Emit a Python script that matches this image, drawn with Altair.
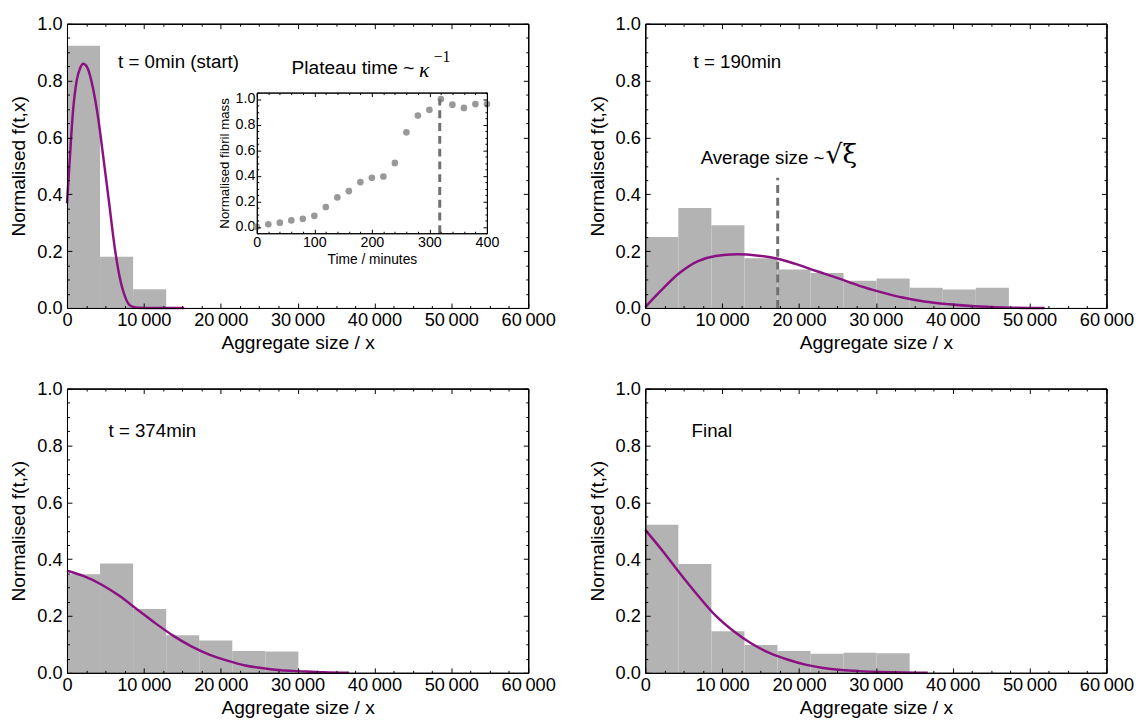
import altair as alt
import pandas as pd

W, H = 469, 289
XMAX = 60000
BIN = 4300
FONT = "Liberation Sans"
GRAY_BAR = "#b3b3b3"
PURPLE = "#8b1183"
DASH_GRAY = "#707070"
TICK_FS = 18.5
TITLE_FS = 19.5
NOTE_FS = 19

# ---- histogram heights (bin width BIN) ----
h_start = [0.923, 0.180, 0.066]
h_190 = [0.250, 0.352, 0.291, 0.175, 0.135, 0.123, 0.096, 0.104, 0.071, 0.065, 0.071]
h_374 = [0.347, 0.385, 0.225, 0.132, 0.114, 0.077, 0.075]
h_final = [0.521, 0.383, 0.146, 0.098, 0.077, 0.067, 0.071, 0.069]

# ---- fitted curves ----
c0_x = [0, 330, 790, 1260, 1730, 2100, 2660, 3360, 4060, 4760, 5460, 6150, 6850, 7550, 8250, 9180, 11000, 13000, 15250]
c0_y = [0.368, 0.51, 0.695, 0.80, 0.845, 0.859, 0.845, 0.776, 0.667, 0.523, 0.374, 0.224, 0.109, 0.040, 0.008, 0.001, 0.0, 0.0, 0.0]
c190_x = [0, 2100, 4450, 6790, 9130, 11940, 14750, 17230, 19430, 22240, 25040, 27850, 30660, 33470, 36280, 39550, 42830, 46580, 51960]
c190_y = [0.003, 0.063, 0.123, 0.164, 0.183, 0.189, 0.184, 0.173, 0.156, 0.130, 0.105, 0.078, 0.056, 0.037, 0.023, 0.013, 0.006, 0.002, 0.0]
c374_x = [0, 2190, 4520, 6850, 9180, 11520, 13850, 16180, 18510, 20840, 23170, 25500, 27830, 30160, 33430, 36690]
c374_y = [0.359, 0.340, 0.310, 0.270, 0.222, 0.174, 0.130, 0.093, 0.064, 0.043, 0.026, 0.016, 0.009, 0.006, 0.002, 0.0]
cfin_x = [0, 2110, 4450, 6790, 9130, 11470, 13810, 16150, 18490, 20830, 23170, 25510, 27850, 30660, 33470, 36750]
cfin_y = [0.503, 0.434, 0.352, 0.274, 0.202, 0.147, 0.103, 0.070, 0.047, 0.029, 0.017, 0.010, 0.006, 0.003, 0.001, 0.0]

# ---- inset: fibril mass vs time ----
inset_t = [0, 20, 40, 60, 80, 100, 120, 140, 160, 180, 200, 220, 240, 260, 280, 300, 320, 340, 360, 380, 400]
inset_m = [0.0, 0.02, 0.033, 0.05, 0.063, 0.086, 0.155, 0.23, 0.28, 0.35, 0.384, 0.394, 0.50, 0.74, 0.87, 0.916, 1.0, 0.956, 0.93, 0.96, 0.96]
plateau_t = 318
avg_size = 17230
avg_top = 0.458

# ---- tick values ----
X_MAJ = [0, 10000, 20000, 30000, 40000, 50000, 60000]
X_MIN = [v for v in range(0, 60001, 2500) if v % 10000 != 0]
Y_MAJ = [0.0, 0.2, 0.4, 0.6, 0.8, 1.0]
Y_MIN = [round(i * 0.05, 2) for i in range(21) if i % 4 != 0]
IX_MAJ = [0, 100, 200, 300, 400]
IX_MIN = [v for v in range(0, 401, 20) if v % 100 != 0]
IY_MAJ = [0.0, 0.2, 0.4, 0.6, 0.8, 1.0]
IY_MIN = [round(-0.05 + i * 0.05, 2) for i in range(23) if (i - 1) % 4 != 0]

XDOM = [0, XMAX]
YDOM = [0, 1]
IXDOM = [0, 400]
IYDOM = [-0.05, 1.05]
# inset placement inside top-left plot area (pixels)
IL, IR, IT, IB = 193, 427, 70, 213

X_LABEL_EXPR = "datum.value >= 10000 ? floor(datum.value / 1000) + '\u2009000' : '' + datum.value"


def sx(dom, rng=None):
    if rng is None:
        return alt.Scale(domain=dom, nice=False, zero=False)
    return alt.Scale(domain=dom, nice=False, zero=False, range=rng)


def tick_axis(orient, offset, values, size):
    return alt.Axis(orient=orient, offset=offset, values=values, labels=False, ticks=True,
                    tickSize=size, tickColor="black", tickWidth=1, domain=True,
                    domainColor="black", domainWidth=1, grid=False, title=None, zindex=2)


def tick_layers(xdom, ydom, xmaj, xmin_, ymaj, ymin_, xr, yr, top_px, bottom_px, left_px, right_px, major, minor):
    df = pd.DataFrame({"x": [xdom[0], xdom[1]], "y": [ydom[0], ydom[1]]})
    layers = []
    for xv, yv, size in [(xmaj, ymaj, major), (xmin_, ymin_, minor)]:
        layers.append(alt.Chart(df).mark_point(opacity=0).encode(
            x=alt.X("x:Q", scale=sx(xdom, xr), axis=tick_axis("top", -bottom_px, xv, size)),
            y=alt.Y("y:Q", scale=sx(ydom, yr), axis=tick_axis("right", left_px - W, yv, size)),
        ))
        layers.append(alt.Chart(df).mark_point(opacity=0).encode(
            x=alt.X("x:Q", scale=sx(xdom, xr), axis=tick_axis("bottom", top_px - H, xv, size)),
            y=alt.Y("y:Q", scale=sx(ydom, yr), axis=tick_axis("left", -right_px, yv, size)),
        ))
    return layers


def text_layer(txt, x, y, size=NOTE_FS, align="left", font=FONT, style="normal", color="black"):
    df = pd.DataFrame({"x": [x], "y": [y], "t": [txt]})
    return alt.Chart(df).mark_text(align=align, baseline="middle", fontSize=size, font=font,
                                   fontStyle=style, color=color).encode(
        x=alt.X("x:Q", scale=sx(XDOM), axis=None),
        y=alt.Y("y:Q", scale=sx(YDOM), axis=None),
        text="t:N",
    )


def panel(heights, cx, cy, label, label_x, label_y, extra=None):
    bars = pd.DataFrame({
        "x0": [i * BIN for i in range(len(heights))],
        "x1": [(i + 1) * BIN for i in range(len(heights))],
        "h": heights,
    })
    bar_layer = alt.Chart(bars).mark_rect(color=GRAY_BAR).encode(
        x=alt.X("x0:Q", scale=sx(XDOM), axis=alt.Axis(
            orient="bottom", values=X_MAJ, ticks=False, domain=False, labelExpr=X_LABEL_EXPR,
            labelFontSize=TICK_FS, labelPadding=3, labelFlush=False, labelOverlap=False,
            title="Aggregate size / x", titleFontSize=TITLE_FS, titlePadding=5)),
        x2="x1:Q",
        y=alt.Y("h:Q", scale=sx(YDOM), axis=alt.Axis(
            orient="left", values=Y_MAJ, ticks=False, domain=False, format=".1f",
            labelFontSize=TICK_FS, labelPadding=5, title="Normalised f(t,x)", titleFontSize=TITLE_FS,
            titlePadding=8)),
        y2=alt.datum(0),
    )
    curve = pd.DataFrame({"x": cx, "y": cy})
    curve_layer = alt.Chart(curve).mark_line(color=PURPLE, strokeWidth=2.5, interpolate="monotone").encode(
        x=alt.X("x:Q", scale=sx(XDOM), axis=None),
        y=alt.Y("y:Q", scale=sx(YDOM), axis=None),
    )
    layers = [bar_layer, curve_layer, text_layer(label, label_x, label_y)]
    if extra:
        layers += extra
    layers += tick_layers(XDOM, YDOM, X_MAJ, X_MIN, Y_MAJ, Y_MIN, None, None, 0, H, 0, W, 5, 2.5)
    return alt.layer(*layers).resolve_scale(x="independent", y="independent").properties(width=W, height=H)


# ---- inset layers for top-left panel ----
inset_df = pd.DataFrame({"t": inset_t, "m": inset_m})
inset_pts = alt.Chart(inset_df).mark_circle(size=46, color="#999999", opacity=1).encode(
    x=alt.X("t:Q", scale=sx(IXDOM, [IL, IR]), axis=alt.Axis(
        orient="bottom", offset=IB - H, values=IX_MAJ, ticks=False, domain=False,
        labelFontSize=14.5, labelPadding=3, labelFlush=False, title="Time / minutes",
        titleFontSize=14, titlePadding=3)),
    y=alt.Y("m:Q", scale=sx(IYDOM, [IB, IT]), axis=alt.Axis(
        orient="left", offset=-IL, values=IY_MAJ, ticks=False, domain=False, format=".1f",
        labelFontSize=14.5, labelPadding=2, title="Normalised fibril mass", titleFontSize=13.5,
        titlePadding=4)),
)
plateau_df = pd.DataFrame({"t": [plateau_t], "y0": [IYDOM[0]], "y1": [1.0]})
plateau_rule = alt.Chart(plateau_df).mark_rule(color=DASH_GRAY, strokeWidth=3, strokeDash=[8, 5]).encode(
    x=alt.X("t:Q", scale=sx(IXDOM, [IL, IR]), axis=None),
    y=alt.Y("y0:Q", scale=sx(IYDOM, [IB, IT]), axis=None),
    y2="y1:Q",
)
inset_ticks = tick_layers(IXDOM, IYDOM, IX_MAJ, IX_MIN, IY_MAJ, IY_MIN, [IL, IR], [IB, IT],
                          IT, IB, IL, IR, 4, 2)
inset_title = [
    text_layer("Plateau time ~", 45200, 0.843, size=19.5, align="right"),
    text_layer("κ", 45800, 0.836, size=22, font="Liberation Serif", style="italic"),
    text_layer("−1", 47700, 0.882, size=16, font="Liberation Serif"),
]

avg_df = pd.DataFrame({"x": [avg_size], "y0": [0.0], "y1": [avg_top]})
avg_rule = alt.Chart(avg_df).mark_rule(color=DASH_GRAY, strokeWidth=3, strokeDash=[8, 5]).encode(
    x=alt.X("x:Q", scale=sx(XDOM), axis=None),
    y=alt.Y("y0:Q", scale=sx(YDOM), axis=None),
    y2="y1:Q",
)
avg_text = [
    text_layer("Average size ~", 23300, 0.529, size=NOTE_FS, align="right"),
    text_layer("√ξ", 23450, 0.537, size=27, font="DejaVu Serif"),
]

p1 = panel(h_start, c0_x, c0_y, "t = 0min (start)", 6650, 0.865,
           extra=[inset_pts, plateau_rule] + inset_ticks + inset_title)
p2 = panel(h_190, c190_x, c190_y, "t = 190min", 6280, 0.865, extra=[avg_rule] + avg_text)
p3 = panel(h_374, c374_x, c374_y, "t = 374min", 5400, 0.85)
p4 = panel(h_final, cfin_x, cfin_y, "Final", 6030, 0.85)

chart = alt.vconcat(
    alt.hconcat(p1, p2, spacing=30),
    alt.hconcat(p3, p4, spacing=30),
    spacing=26,
).properties(
    padding={"left": 0, "top": 0, "right": 0, "bottom": 0}
).configure_view(
    stroke="black", strokeWidth=1
).configure_axis(
    grid=False, labelFont=FONT, titleFont=FONT, labelColor="black", titleColor="black",
    titleFontWeight="normal"
)

chart.save("out.html", embed_options={"renderer": "svg", "actions": False})
